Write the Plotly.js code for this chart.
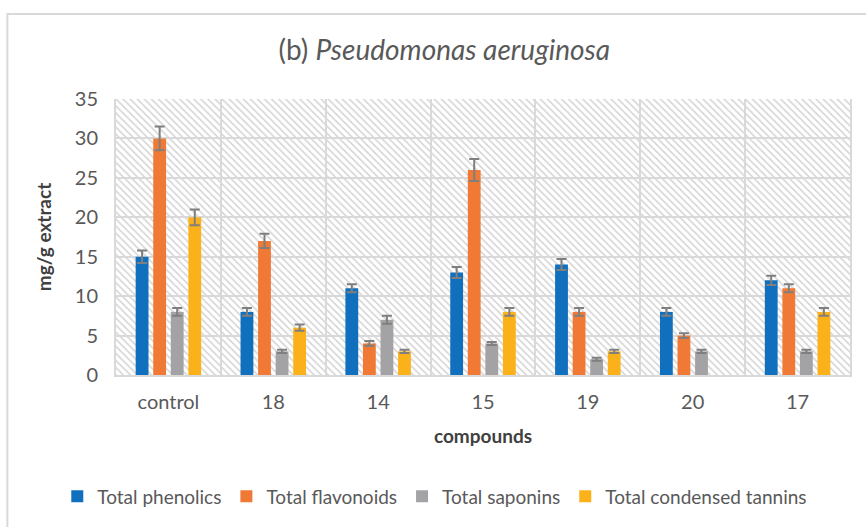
<!DOCTYPE html>
<html>
<head>
<meta charset="utf-8">
<script src="https://cdn.plot.ly/plotly-3.0.1.min.js"></script>
<style>html,body{margin:0;padding:0;background:#fff;}#chart{width:866px;height:527px;}</style>
</head>
<body>
<div id="chart"></div>
<script>
const categories = ["control", "18", "14", "15", "19", "20", "17"];
const seriesNames = ["Total phenolics", "Total flavonoids", "Total saponins", "Total condensed tannins"];
const phenolics = [15, 8, 11, 13, 14, 8, 12];
const phenolicsErr = [0.8, 0.5, 0.5, 0.7, 0.7, 0.5, 0.6];
const flavonoids = [30, 17, 4, 26, 8, 5, 11];
const flavonoidsErr = [1.5, 0.9, 0.3, 1.4, 0.5, 0.3, 0.5];
const saponins = [8, 3, 7, 4, 2, 3, 3];
const saponinsErr = [0.5, 0.2, 0.5, 0.2, 0.2, 0.2, 0.2];
const tannins = [20, 6, 3, 8, 3, null, 8];
const tanninsErr = [1.0, 0.4, 0.2, 0.5, 0.2, null, 0.5];
const yTicks = [0, 5, 10, 15, 20, 25, 30, 35];

const colors = ["#1170BD", "#F07A35", "#A3A3A6", "#FBB21A"];
const values = [phenolics, flavonoids, saponins, tannins];
const errs = [phenolicsErr, flavonoidsErr, saponinsErr, tanninsErr];

const traces = [];
// hatched plot-area background (decoration) on hidden base axes, drawn first
traces.push({
  type: "bar", x: [0.5], y: [1], width: [1], xaxis: "x", yaxis: "y",
  marker: {color: "rgba(255,255,255,0)", line: {width: 0},
           pattern: {shape: "\\", fgcolor: "#D4D4D4", bgcolor: "#FFFFFF", size: 5, solidity: 0.3}},
  showlegend: false, hoverinfo: "skip"
});
for (let i = 0; i < 4; i++) {
  traces.push({
    type: "bar", name: seriesNames[i], x: categories, y: values[i],
    xaxis: "x2", yaxis: "y2",
    marker: {color: colors[i]},
    error_y: {type: "data", array: errs[i], visible: true, color: "#7F7F7F", thickness: 2, width: 5}
  });
}

const layout = {
  width: 866, height: 527,
  margin: {l: 116, r: 16, t: 99, b: 152, autoexpand: false},
  paper_bgcolor: "#FFFFFF", plot_bgcolor: "rgba(0,0,0,0)",
  font: {family: "Lato, 'Open Sans', sans-serif", color: "#595959"},
  title: {text: "(b) <i>Pseudomonas aeruginosa</i>", x: 0.513, xanchor: "center", y: 0.905, yanchor: "middle",
          font: {size: 28, color: "#595959", family: "Lato, 'Open Sans', sans-serif"}},
  barmode: "group", bargap: 0.33, bargroupgap: 0.27,
  xaxis: {range: [0, 1], visible: false, fixedrange: true, domain: [0, 1]},
  yaxis: {range: [0, 1], visible: false, fixedrange: true, domain: [0, 1]},
  xaxis2: {anchor: "y2", domain: [0, 1], type: "category", categoryarray: categories, tickson: "boundaries",
           showgrid: true, gridcolor: "#D9D9D9", gridwidth: 2, showline: true, linecolor: "#D9D9D9", linewidth: 2,
           ticks: "", tickfont: {size: 20, color: "#595959"}, ticklabelstandoff: 8,
           title: {text: "<b>compounds</b>", font: {size: 19, color: "#404040"}, standoff: 18}},
  yaxis2: {anchor: "x2", domain: [0, 1], range: [0, 35], tickvals: yTicks, showgrid: true, gridcolor: "#D9D9D9", gridwidth: 2,
           zeroline: false, showline: true, linecolor: "#D9D9D9", linewidth: 2, mirror: true,
           ticks: "", tickfont: {size: 20, color: "#595959"}, ticklabelstandoff: 12,
           title: {text: "<b>mg/g extract</b>", font: {size: 19, color: "#404040"}, standoff: 18}},
  legend: {orientation: "h", x: -0.08, xanchor: "left", y: -0.44, yanchor: "middle",
           font: {size: 19, color: "#595959"}, itemwidth: 30, tracegroupgap: 0},
  shapes: [
    {type: "rect", xref: "paper", yref: "paper", x0: -0.148, x1: 1.05, y0: -0.6, y1: 1.308,
     line: {color: "#D9D9D9", width: 2}, fillcolor: "rgba(0,0,0,0)", layer: "below"}
  ]
};

Plotly.newPlot("chart", traces, layout, {displayModeBar: false, staticPlot: true});
</script>
</body>
</html>
